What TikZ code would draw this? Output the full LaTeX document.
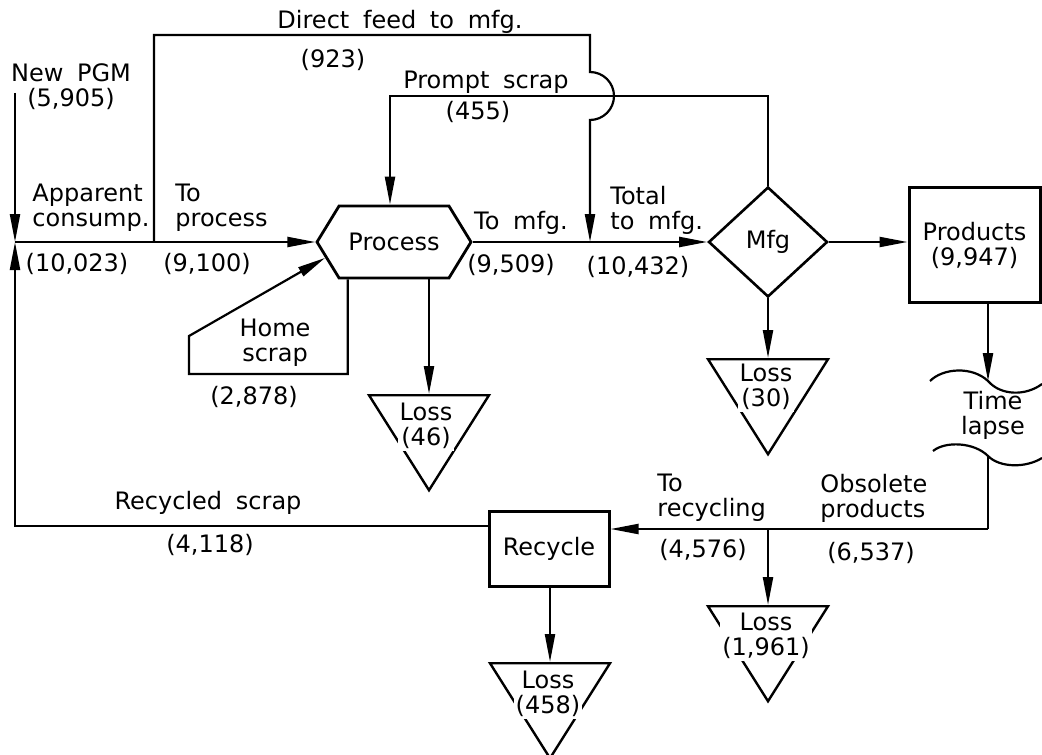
\documentclass[tikz,border=0pt]{standalone}
\usepackage{fontspec}
\setmainfont{DejaVu Sans}[WordSpace=1.8]
\usetikzlibrary{arrows.meta,shapes.geometric,shapes.symbols}

\begin{document}
\begin{tikzpicture}[%
    x=0.5pt, y=-0.5pt,
    every node/.style = {inner sep=0pt, font=\fontsize{12}{12.5}\selectfont},
    lbl/.style = {align=center},
    lbll/.style = {align=left, anchor=west},
    flow/.style = {line width=1.1pt, -{Triangle[length=14pt, width=5pt]}},
    pipe/.style = {line width=1.1pt},
    process/.style = {draw, line width=1.4pt, signal, signal to=west and east, signal pointer angle=117, minimum width=77pt, minimum height=36pt},
    mfgbox/.style = {draw, line width=1.3pt, diamond, minimum width=59.5pt, minimum height=55pt},
    stock/.style = {draw, line width=1.5pt, rectangle, align=center},
    loss/.style = {draw, line width=1.2pt, isosceles triangle, isosceles triangle stretches, shape border rotate=270, minimum width=60pt, minimum height=47.5pt, anchor=north},
    losstext/.style = {fill=white, inner sep=1pt, align=center}%
  ]
    \useasboundingbox (0,0) rectangle (1042,754);

    % blocks
    \node[process] (proc) at (394,242) {Process};
    \node[mfgbox] (mfg) at (768,242) {Mfg};
    \node[stock, minimum width=65.5pt, minimum height=57pt] (prod) at (974.5,245) {Products\\(9,947)};
    \node[stock, minimum width=60pt, minimum height=37.5pt] (recy) at (549,548.5) {Recycle};
    \node[loss] (lossP) at (429,394) {};
    \node[loss] (lossM) at (768,358) {};
    \node[loss] (lossO) at (768,605) {};
    \node[loss] (lossR) at (550,662) {};

    % junctions
    \coordinate (pgm) at (15,93);
    \coordinate (cons) at (15,242);
    \coordinate (split) at (154,242);
    \coordinate (feed) at (590,35);
    \coordinate (join) at (590,242);
    \coordinate (prompt) at (390,96);
    \coordinate (home) at (189,374);
    \coordinate (lapse1) at (988,381);
    \coordinate (lapse2) at (988,456);
    \coordinate (obs) at (988,529);
    \coordinate (torec) at (768,529);
    \coordinate (rs) at (15,526);

    % flows
    \draw[flow] (pgm) -- (cons);
    \draw[flow] (recy.west |- rs) -- (rs) -- (cons);
    \draw[pipe] (cons) -- (split);
    \draw[flow] (split) -- (proc.west);
    \draw[flow] (split) |- (feed) -- ++(0,37) arc[start angle=-90, end angle=90, radius=24] -- (join);
    \draw[pipe] (proc.east) -- (join);
    \draw[flow] (join) -- (mfg.west);
    \draw[flow] (mfg.north) |- (prompt) -- (prompt |- proc.north);
    \draw[flow] (proc.south -| lossP.north) -- (lossP.north);
    \draw[flow] (proc.219) |- (home) -- ++(0,-38) -- (proc.193);
    \draw[flow] (mfg.east) -- (mfg.east -| prod.west);
    \draw[flow] (mfg.south) -- (lossM.north);
    \draw[flow] (prod.south -| lapse1) -- (lapse1);
    \draw[pipe] (930,381) .. controls (943,368) and (972,366) .. (lapse1) .. controls (1001,396) and (1026,396) .. (1042,384);
    \draw[pipe] (933,451) .. controls (945,441) and (974,442) .. (lapse2) .. controls (1000,468) and (1026,468) .. (1042,458);
    \draw[pipe] (lapse2) -- (obs);
    \draw[flow] (obs) -- (obs -| recy.east);
    \draw[flow] (torec) -- (lossO.north);
    \draw[flow] (recy.south -| lossR.north) -- (lossR.north);

    % labels
    \node[lbl] (newpgm) at (71,87) {New PGM\\(5,905)};
    \node[lbll] (appc) at (32,208) {Apparent\\consump.};
    \node[lbl] (appn) at (77,264) {(10,023)};
    \node[lbl] (dirf) at (400,22) {Direct feed to mfg.};
    \node[lbl] (dirn) at (333,60) {(923)};
    \node[lbll] (topr) at (175,208) {To\\process};
    \node[lbl] (toprn) at (207,264) {(9,100)};
    \node[lbl] (prom) at (486,82) {Prompt scrap};
    \node[lbl] (promn) at (478,112) {(455)};
    \node[lbl] (tomf) at (521,223) {To mfg.};
    \node[lbl] (tomfn) at (511,265) {(9,509)};
    \node[lbll] (totm) at (610,210) {Total\\to mfg.};
    \node[lbl] (totmn) at (638,267) {(10,432)};
    \node[lbl] (homs) at (275,343) {Home\\scrap};
    \node[lbl] (homsn) at (254,397) {(2,878)};
    \node[lbl] (tlap) at (993,415) {Time\\lapse};
    \node[lbl] (recs) at (208,503) {Recycled scrap};
    \node[lbl] (recsn) at (210,545) {(4,118)};
    \node[lbll] (torc) at (657,498) {To\\recycling};
    \node[lbl] (torcn) at (703,550) {(4,576)};
    \node[lbll] (obsp) at (820,498) {Obsolete\\products};
    \node[lbl] (obspn) at (871,553) {(6,537)};
    \node[losstext] (lossPt) at (426,426) {Loss\\(46)};
    \node[losstext] (lossMt) at (766,387) {Loss\\(30)};
    \node[losstext] (lossOt) at (766,636) {Loss\\(1,961)};
    \node[losstext] (lossRt) at (548,694) {Loss\\(458)};
\end{tikzpicture}
\end{document}
